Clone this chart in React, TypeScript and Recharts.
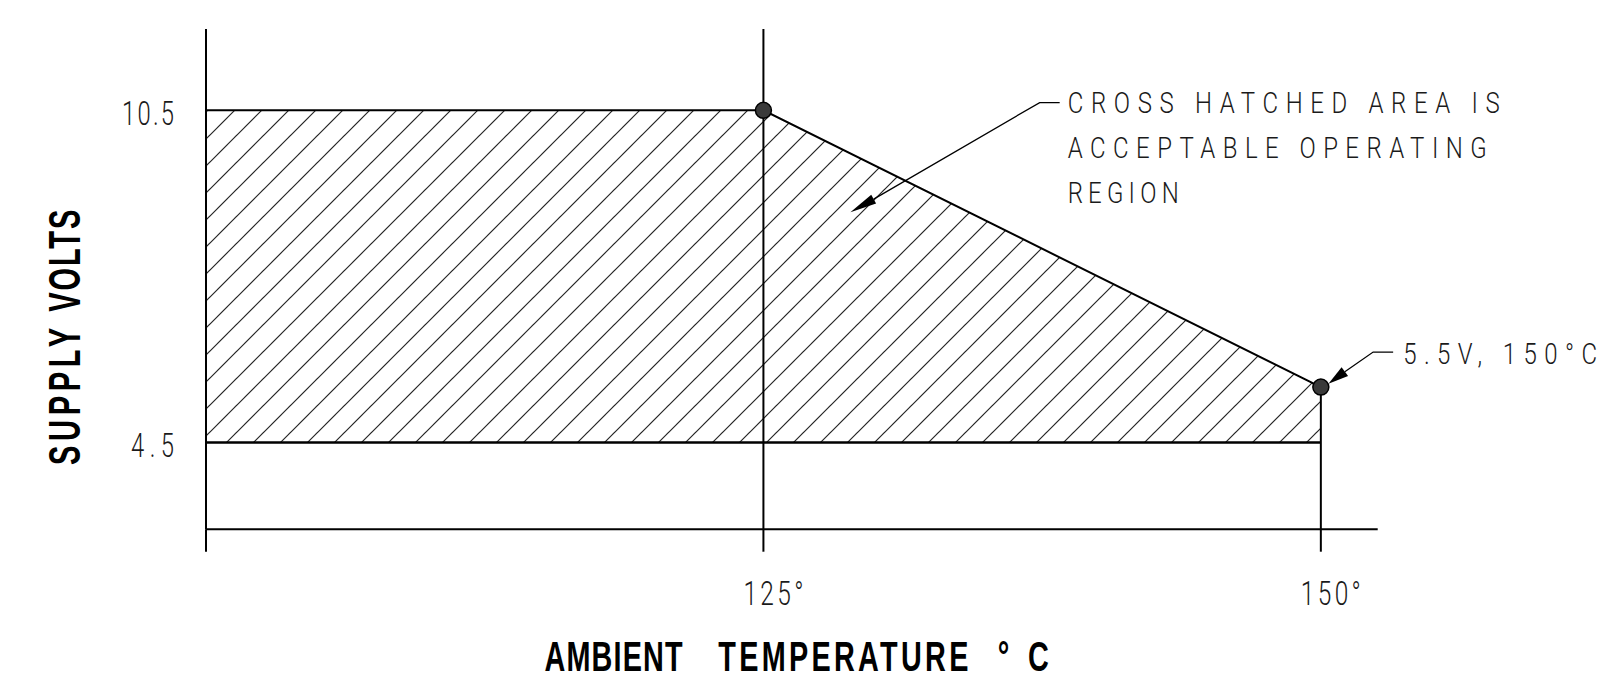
import React from 'react';
import {
  ComposedChart,
  Area,
  XAxis,
  YAxis,
  ReferenceLine,
  ReferenceDot,
  Scatter,
} from 'recharts';

// ---------- data ----------
const temps = [100, 125, 150];
const upperVolts = [10.5, 10.5, 5.5];
const lowerVolts = [4.5, 4.5, 4.5];
const markerTemps = [125, 150];
const markerVolts = [10.5, 5.5];
const xTicks = [100, 125, 150];
const xTickLabels = ['', '125°', '150°'];
const yTicks = [4.5, 10.5];
const yTickLabels = ['4.5', '10.5'];
const xDomain = [100, 152.55];
const yDomain = [2.93, 11.97];
const calloutAnchor = { t: 128.9, v: 8.66 };
const calloutLines = ['CROSS HATCHED AREA IS', 'ACCEPTABLE OPERATING', 'REGION'];
const pointLabel = '5.5V, 150°C';
const xTitleWords = ['AMBIENT', 'TEMPERATURE', '°C'];
const yTitleWords = ['SUPPLY', 'VOLTS'];

const rows = temps.map((t, i) => ({ t, band: [lowerVolts[i], upperVolts[i]] }));
const markers = markerTemps.map((t, i) => ({ t, v: markerVolts[i] }));

// ---------- text helpers ----------
const THIN = "Roboto, 'DejaVu Sans', sans-serif";
const BOLD = "'Liberation Sans', Arial, sans-serif";

function CadText(props: any) {
  const {
    x, y, text, size, width, anchor = 'start', squeeze = 0.8, weight = 300,
    fill = '#1a1a1a', rotate = 0, family = THIN,
  } = props;
  return (
    <text
      transform={`translate(${x},${y}) rotate(${rotate}) scale(${squeeze},1)`}
      x={0}
      y={0}
      fontFamily={family}
      fontSize={size}
      fontWeight={weight}
      fill={fill}
      textAnchor={anchor}
      textLength={width / squeeze}
      lengthAdjust="spacing"
    >
      {text}
    </text>
  );
}

function arrowHead(tx: number, ty: number, bx: number, by: number, hw: number) {
  const dx = bx - tx;
  const dy = by - ty;
  const len = Math.sqrt(dx * dx + dy * dy);
  const nx = -dy / len;
  const ny = dx / len;
  return `${tx},${ty} ${bx + nx * hw},${by + ny * hw} ${bx - nx * hw},${by - ny * hw}`;
}

function XTick(props: any) {
  const { x, y, payload } = props;
  const label = xTickLabels[xTicks.indexOf(payload.value)];
  return (
    <g>
      <line x1={x} x2={x} y1={y} y2={y + 22.4} stroke="#000" strokeWidth={2} />
      {label ? (
        <CadText x={x + 10} y={y + 76} text={label} size={34} width={60} anchor="middle" squeeze={0.72} />
      ) : null}
    </g>
  );
}

function YTick(props: any) {
  const { x, y, payload } = props;
  const i = yTicks.indexOf(payload.value);
  const label = yTickLabels[i];
  return (
    <CadText
      x={x - 32}
      y={y + 14.6}
      text={label}
      size={34}
      width={label.length > 3 ? 52 : 43}
      anchor="end"
      squeeze={0.7}
    />
  );
}

function YTitle(props: any) {
  const vb = props.viewBox;
  const starts = [436, 282.7];
  const lens = [137, 102];
  return (
    <g>
      {yTitleWords.map((w, i) => (
        <CadText
          key={w}
          x={vb.x + 80}
          y={vb.y + starts[i]}
          rotate={-90}
          text={w}
          size={44}
          width={lens[i]}
          squeeze={0.66}
          weight={700}
          fill="#000"
          family={BOLD}
        />
      ))}
    </g>
  );
}

function XTitle(props: any) {
  const vb = props.viewBox;
  const cx = vb.x + vb.width / 2;
  const starts = [-247.3, -73.5, 206];
  const lens = [138, 250, 51];
  return (
    <g>
      {xTitleWords.map((w, i) => (
        <CadText
          key={w}
          x={cx + starts[i]}
          y={vb.y + 141.5}
          text={w}
          size={43}
          width={lens[i]}
          squeeze={0.67}
          weight={700}
          fill="#000"
          family={BOLD}
        />
      ))}
    </g>
  );
}

function RegionCallout(props: any) {
  const { cx, cy } = props;
  const bx = cx + 23.3;
  const by = cy - 13;
  return (
    <g>
      <polygon points={arrowHead(cx, cy, bx, by, 5)} fill="#000" />
      <polyline
        points={`${bx},${by} ${cx + 189.3},${cy - 109.6} ${cx + 209.3},${cy - 109.6}`}
        fill="none"
        stroke="#000"
        strokeWidth={1.3}
      />
      <CadText x={cx + 217.3} y={cy - 99.3} text={calloutLines[0]} size={30} width={432} />
      <CadText x={cx + 217.3} y={cy - 54.3} text={calloutLines[1]} size={30} width={419} />
      <CadText x={cx + 217.3} y={cy - 9.3} text={calloutLines[2]} size={30} width={111} />
    </g>
  );
}

function PointCallout(props: any) {
  const { cx, cy } = props;
  const tx = cx + 7.6;
  const ty = cy - 3.4;
  const bx = cx + 24;
  const by = cy - 15.4;
  return (
    <g>
      <polygon points={arrowHead(tx, ty, bx, by, 5.5)} fill="#000" />
      <polyline
        points={`${bx},${by} ${cx + 52.3},${cy - 35} ${cx + 72.3},${cy - 35}`}
        fill="none"
        stroke="#000"
        strokeWidth={1.3}
      />
      <CadText x={cx + 82.3} y={cy - 22.7} text={pointLabel} size={30} width={194} />
    </g>
  );
}

function Marker(props: any) {
  const { cx, cy } = props;
  return <circle cx={cx} cy={cy} r={8} fill="#3a3a3a" stroke="#000" strokeWidth={1.5} />;
}

export default function App() {
  return (
    <div style={{ position: 'absolute', left: 0, top: 0, width: 1602, height: 680, background: '#fff' }}>
      <ComposedChart
        width={1602}
        height={680}
        data={rows}
        margin={{ top: 29, right: 224.3, bottom: 0, left: 0 }}
      >
        <defs>
          <pattern
            id="hatch"
            patternUnits="userSpaceOnUse"
            width={27}
            height={27}
            patternTransform="translate(21,0)"
          >
            <line x1={-2} y1={2} x2={2} y2={-2} stroke="#222" strokeWidth={1.2} />
            <line x1={0} y1={27} x2={27} y2={0} stroke="#222" strokeWidth={1.2} />
            <line x1={25} y1={29} x2={29} y2={25} stroke="#222" strokeWidth={1.2} />
          </pattern>
        </defs>
        <XAxis
          dataKey="t"
          type="number"
          domain={xDomain}
          ticks={xTicks}
          allowDataOverflow
          interval={0}
          height={150.7}
          tickSize={0}
          tickMargin={0}
          tickLine={false}
          axisLine={{ stroke: '#000', strokeWidth: 2 }}
          tick={<XTick />}
          label={(p: any) => <XTitle {...p} />}
        />
        <YAxis
          type="number"
          domain={yDomain}
          ticks={yTicks}
          allowDataOverflow
          interval={0}
          width={206}
          tickSize={0}
          tickMargin={0}
          tickLine={false}
          axisLine={{ stroke: '#000', strokeWidth: 2 }}
          tick={<YTick />}
          label={(p: any) => <YTitle {...p} />}
        />
        <Area
          dataKey="band"
          type="linear"
          stroke="#000"
          strokeWidth={2}
          fill="url(#hatch)"
          fillOpacity={1}
          dot={false}
          activeDot={false}
          isAnimationActive={false}
        />
        <ReferenceLine x={125} stroke="#000" strokeWidth={2} ifOverflow="visible" />
        <ReferenceLine
          segment={[{ x: markerTemps[1], y: markerVolts[1] }, { x: markerTemps[1], y: yDomain[0] }]}
          stroke="#000"
          strokeWidth={2}
          ifOverflow="visible"
        />
        <ReferenceLine
          segment={[{ x: temps[0], y: lowerVolts[0] }, { x: temps[2], y: lowerVolts[2] }]}
          stroke="#000"
          strokeWidth={2}
          ifOverflow="visible"
        />
        <Scatter data={markers} dataKey="v" shape={(p: any) => <Marker {...p} />} isAnimationActive={false} />
        <ReferenceDot
          x={calloutAnchor.t}
          y={calloutAnchor.v}
          r={0}
          ifOverflow="visible"
          shape={(p: any) => <RegionCallout {...p} />}
        />
        <ReferenceDot
          x={markerTemps[1]}
          y={markerVolts[1]}
          r={0}
          ifOverflow="visible"
          shape={(p: any) => <PointCallout {...p} />}
        />
      </ComposedChart>
    </div>
  );
}
